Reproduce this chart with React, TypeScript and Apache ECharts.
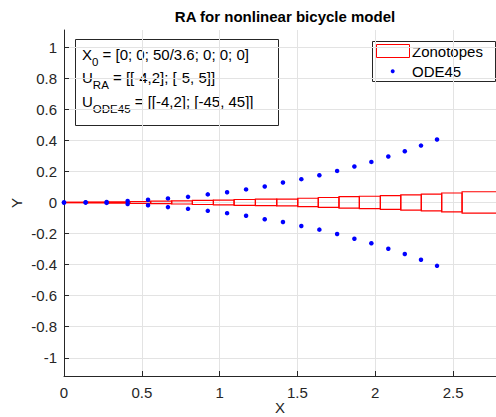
import React, { useEffect, useRef } from "react";
import * as echarts from "echarts";

// ODE45 samples (upper and lower branches share x)
const odeX = [0, 0.139, 0.274, 0.409, 0.54, 0.668, 0.797, 0.924, 1.048, 1.17, 1.29, 1.407, 1.525, 1.641, 1.755, 1.866, 1.975, 2.084, 2.19, 2.294, 2.397];
const odeUpper = [0, 0.001, 0.003, 0.01, 0.017, 0.026, 0.036, 0.052, 0.066, 0.084, 0.103, 0.128, 0.15, 0.175, 0.203, 0.231, 0.261, 0.296, 0.33, 0.366, 0.405];
const odeLower = [0, -0.001, -0.003, -0.01, -0.018, -0.03, -0.041, -0.054, -0.069, -0.086, -0.108, -0.126, -0.152, -0.175, -0.203, -0.234, -0.263, -0.298, -0.332, -0.369, -0.408];

// Zonotope boxes (x range and half-height in y)
const zonoXmin = [0, 0.155, 0.29, 0.423, 0.557, 0.692, 0.825, 0.96, 1.093, 1.23, 1.367, 1.502, 1.634, 1.767, 1.898, 2.033, 2.164, 2.296, 2.427, 2.558];
const zonoXmax = [0.155, 0.29, 0.423, 0.557, 0.692, 0.825, 0.96, 1.093, 1.23, 1.367, 1.502, 1.634, 1.767, 1.898, 2.033, 2.164, 2.296, 2.427, 2.558, 2.85];
const zonoHalf = [0.002, 0.003, 0.004, 0.006, 0.008, 0.01, 0.013, 0.015, 0.019, 0.021, 0.022, 0.027, 0.032, 0.037, 0.04, 0.044, 0.049, 0.054, 0.061, 0.069];

const xTicks = [0, 0.5, 1, 1.5, 2, 2.5];
const yTicks = [-1, -0.8, -0.6, -0.4, -0.2, 0, 0.2, 0.4, 0.6, 0.8, 1];

const X_MIN = 0;
const X_MAX = 2.776;
const Y_MIN = -1.117;
const Y_MAX = 1.11;

const FONT = "'Liberation Sans', Arial, Helvetica, sans-serif";
const AX = "#262626";
const GRID = "#e3e3e3";

export default function App() {
  const ref = useRef<HTMLDivElement>(null);

  useEffect(() => {
    if (!ref.current) return;
    const chart = echarts.init(ref.current, undefined, { renderer: "svg" });

    const odeData: number[][] = [];
    odeX.forEach((x, i) => {
      odeData.push([x, odeUpper[i]]);
      odeData.push([x, odeLower[i]]);
    });
    const zonoData = zonoXmin.map((x0, i) => [x0, zonoXmax[i], -zonoHalf[i], zonoHalf[i]]);

    const fmt = (v: number) => String(Math.round(v * 10) / 10);

    const sub = { fontSize: 11.5, lineHeight: 8, verticalAlign: "bottom", fontFamily: FONT, fill: "#000" };
    const nrm = { fontSize: 15, lineHeight: 28, verticalAlign: "middle", fontFamily: FONT, fill: "#000" };

    const option: any = {
      animation: false,
      backgroundColor: "#ffffff",
      title: {
        text: "RA for nonlinear bicycle model",
        left: 280,
        top: 4,
        textAlign: "center",
        textStyle: { fontFamily: FONT, fontSize: 15, fontWeight: "bold", color: "#000" },
      },
      grid: { left: 64, right: 0, top: 30, bottom: 41, containLabel: false, outerBoundsMode: "none" },
      xAxis: {
        type: "value",
        min: X_MIN,
        max: X_MAX,
        name: "X",
        nameLocation: "middle",
        nameGap: 24,
        nameMoveOverlap: false,
        nameTextStyle: { fontFamily: FONT, fontSize: 15, color: AX },
        axisLine: { show: true, onZero: false, lineStyle: { color: AX, width: 1 } },
        axisTick: { show: true, inside: true, length: 5, customValues: xTicks, lineStyle: { color: AX } },
        axisLabel: { customValues: xTicks, formatter: fmt, fontFamily: FONT, fontSize: 15, color: AX, margin: 9 },
        splitLine: { show: true, lineStyle: { color: GRID, width: 1 } },
      },
      yAxis: {
        type: "value",
        min: Y_MIN,
        max: Y_MAX,
        name: "Y",
        nameLocation: "middle",
        nameGap: 40,
        nameMoveOverlap: false,
        nameRotate: 90,
        nameTextStyle: { fontFamily: FONT, fontSize: 15, color: AX },
        axisLine: { show: true, onZero: false, lineStyle: { color: AX, width: 1 } },
        axisTick: { show: true, inside: true, length: 5, customValues: yTicks, lineStyle: { color: AX } },
        axisLabel: { customValues: yTicks, formatter: fmt, fontFamily: FONT, fontSize: 15, color: AX, margin: 7 },
        splitLine: { show: true, lineStyle: { color: GRID, width: 1 } },
      },
      series: [
        {
          name: "Zonotopes",
          type: "custom",
          z: 2,
          clip: true,
          data: zonoData,
          encode: { x: [0, 1], y: [2, 3] },
          renderItem: (params: any, api: any) => {
            const x0 = api.value(0);
            const x1 = Math.min(api.value(1), X_MAX + 0.02);
            const y0 = api.value(2);
            const y1 = api.value(3);
            const p0 = api.coord([x0, y1]);
            const p1 = api.coord([x1, y0]);
            return {
              type: "rect",
              shape: { x: p0[0], y: p0[1], width: p1[0] - p0[0], height: p1[1] - p0[1] },
              style: { fill: "none", stroke: "#ff0000", lineWidth: 1.2 },
            };
          },
        },
        {
          name: "ODE45",
          type: "scatter",
          z: 3,
          symbol: "circle",
          symbolSize: 4.5,
          itemStyle: { color: "#0000ff", opacity: 1 },
          data: odeData,
        },
      ],
      graphic: [
        {
          type: "group",
          z: 100,
          children: [
            { type: "rect", shape: { x: 75.5, y: 39.5, width: 203, height: 86 }, style: { fill: "#fff", stroke: AX, lineWidth: 1 } },
            { type: "text", x: 82, y: 54, style: { text: "{n|X}{s|0}{n| = [0; 0; 50/3.6; 0; 0; 0]}", rich: { n: nrm, s: sub }, verticalAlign: "middle", align: "left" } },
            { type: "text", x: 82, y: 77, style: { text: "{n|U}{s|RA}{n| = [[-4,2]; [-5, 5]]}", rich: { n: nrm, s: sub }, verticalAlign: "middle", align: "left" } },
            { type: "text", x: 82, y: 101, style: { text: "{n|U}{s|ODE45}{n| = [[-4,2]; [-45, 45]]}", rich: { n: nrm, s: sub }, verticalAlign: "middle", align: "left" } },
          ],
        },
        {
          type: "group",
          z: 100,
          children: [
            { type: "rect", shape: { x: 372.5, y: 41.5, width: 123, height: 40 }, style: { fill: "#fff", stroke: AX, lineWidth: 1 } },
            { type: "rect", shape: { x: 376.5, y: 44.5, width: 33, height: 13 }, style: { fill: "none", stroke: "#ff0000", lineWidth: 1 } },
            { type: "text", x: 412, y: 51.5, style: { text: "Zonotopes", fontFamily: FONT, fontSize: 15, fill: "#000", verticalAlign: "middle" } },
            { type: "circle", shape: { cx: 392.7, cy: 71.3, r: 2 }, style: { fill: "#0000ff" } },
            { type: "text", x: 412, y: 71.5, style: { text: "ODE45", fontFamily: FONT, fontSize: 15, fill: "#000", verticalAlign: "middle" } },
          ],
        },
      ],
    };

    chart.setOption(option);
    return () => chart.dispose();
  }, []);

  return <div ref={ref} style={{ position: "fixed", left: 0, top: 0, width: 496, height: 417 }} />;
}
